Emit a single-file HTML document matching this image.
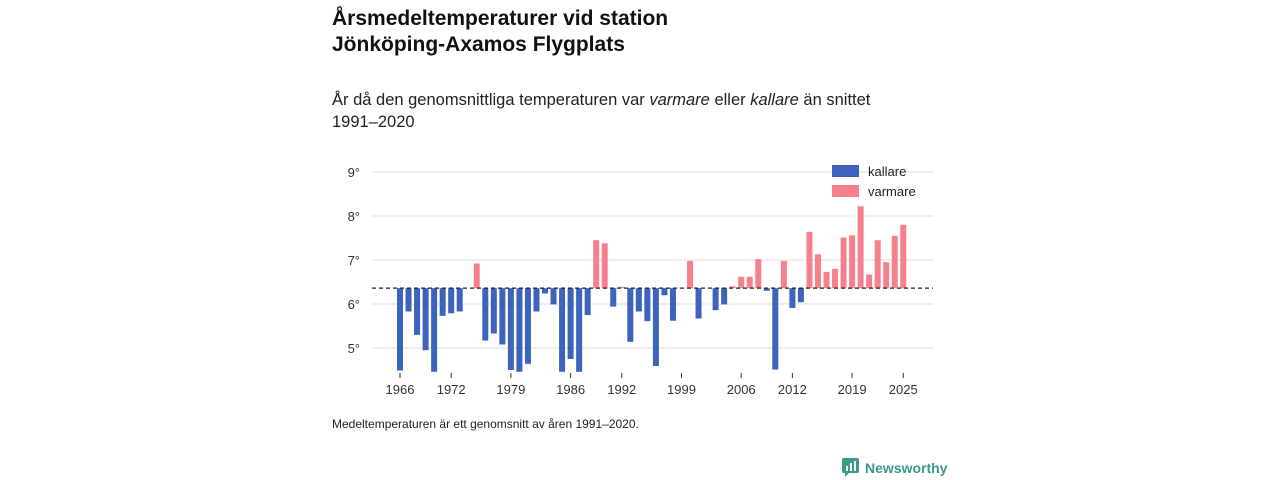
<!DOCTYPE html>
<html><head><meta charset="utf-8"><style>
body{margin:0;width:1280px;height:480px;background:#fff;font-family:"Liberation Sans","DejaVu Sans",sans-serif;color:#111;position:relative;overflow:hidden}
.t{position:absolute;left:332px;top:6px;font-size:21px;font-weight:bold;line-height:26px;margin:0}
.s{position:absolute;left:332px;top:89px;font-size:16.5px;line-height:22px;margin:0;color:#222}
.f{position:absolute;left:332px;top:417px;font-size:12px;color:#222}
.logo{position:absolute;left:842px;top:458px;font-size:14px;font-weight:bold;color:#3a9a8c;display:flex;align-items:center;gap:6px}
</style></head><body>
<h1 class="t">Årsmedeltemperaturer vid station<br>Jönköping-Axamos Flygplats</h1>
<p class="s">År då den genomsnittliga temperaturen var <i>varmare</i> eller <i>kallare</i> än snittet<br>1991–2020</p>
<svg id="c" width="1280" height="480" style="position:absolute;left:0;top:0"></svg>
<div class="f">Medeltemperaturen är ett genomsnitt av åren 1991–2020.</div>
<div class="logo"><svg width="17" height="19"><rect x="0" y="0" width="17" height="15" rx="2" fill="#3a9a8c"/><path d="M3 15 L3 19 L7 15Z" fill="#3a9a8c"/><rect x="4" y="8" width="2" height="5" fill="#fff"/><rect x="8" y="5" width="2" height="8" fill="#fff"/><rect x="12" y="3" width="2" height="10" fill="#fff"/></svg>Newsworthy</div>
<script>
const startYear=1966;
const values=[4.49,5.83,5.30,4.95,4.46,5.73,5.79,5.83,6.36,6.92,5.17,5.33,5.08,4.50,4.46,4.64,5.83,6.24,5.99,4.46,4.75,4.46,5.75,7.45,7.38,5.94,6.39,5.14,5.83,5.61,4.59,6.20,5.62,6.37,6.98,5.67,6.36,5.86,5.99,6.40,6.62,6.62,7.02,6.30,4.51,6.98,5.91,6.04,7.64,7.13,6.73,6.80,7.51,7.56,8.22,6.67,7.45,6.95,7.55,7.80];
const mean=6.36;
const yTicks=[5,6,7,8,9];
const xTicks=[1966,1972,1979,1986,1992,1999,2006,2012,2019,2025];
const ns="http://www.w3.org/2000/svg",svg=document.getElementById('c');
const X=y=>400+(y-1966)*8.53, Y=v=>304-(v-6)*44;
function mk(t,a){const e=document.createElementNS(ns,t);for(const k in a)e.setAttribute(k,a[k]);svg.appendChild(e);return e;}
yTicks.forEach(v=>{
 const g=mk('line',{x1:372,x2:933,y1:Y(v),y2:Y(v),stroke:'#ddd','stroke-width':1});
 
 
 const t=mk('text',{x:360,y:Y(v)+5,'text-anchor':'end','font-size':13,fill:'#333','font-family':'Liberation Sans, sans-serif'});
 t.textContent=v+'°';
 
 
});
xTicks.forEach(yr=>{
 const l=mk('line',{x1:X(yr),x2:X(yr),y1:373,y2:378,stroke:'#333'});
 
 
 const t=mk('text',{x:X(yr),y:394,'text-anchor':'middle','font-size':13,fill:'#333','font-family':'Liberation Sans, sans-serif'});
 t.textContent=yr;
 
 
});
values.forEach((v,i)=>{
 const x=X(startYear+i),y0=Y(mean),y1=Y(v);
 const r=mk('rect',{x:x-3,width:6,y:Math.min(y0,y1),height:Math.abs(y1-y0),fill:v<mean?'#3d63bd':'#f7808d'});
 
 
});
const d=mk('line',{x1:372,x2:933,y1:Y(mean),y2:Y(mean),stroke:'#222','stroke-dasharray':'4,3','stroke-width':1.2});


[['kallare','#3d63bd',171],['varmare','#f7808d',191]].forEach(([n,c,y])=>{
 const r=mk('rect',{x:832,y:y-6,width:27,height:12,fill:c});
 
 
 const t=mk('text',{x:868,y:y+5,'font-size':13,fill:'#222','font-family':'Liberation Sans, sans-serif'});
 t.textContent=n;
 
 
});
</script>
</body></html>
